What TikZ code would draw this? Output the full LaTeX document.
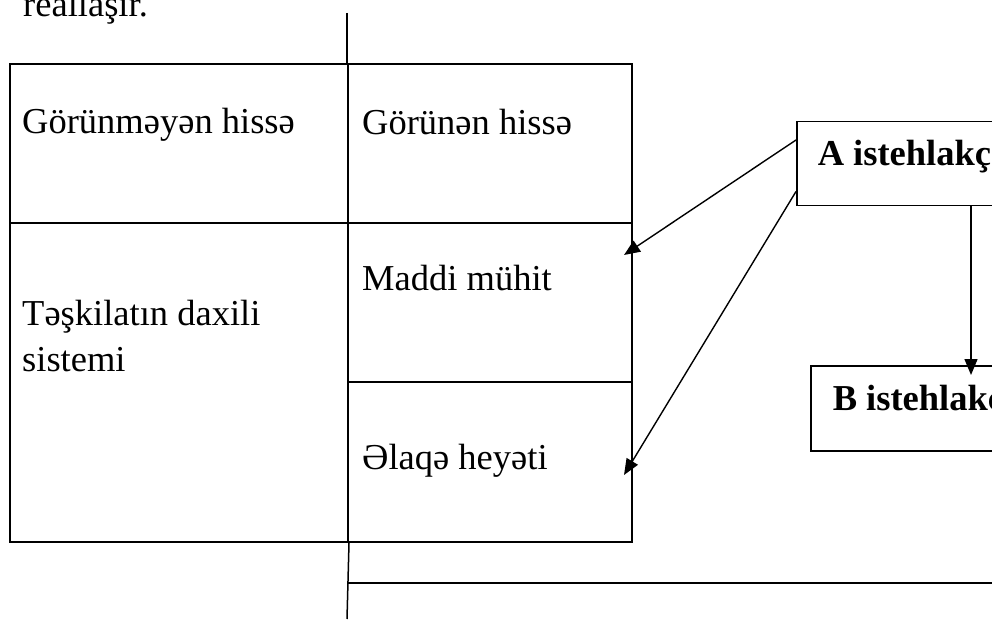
\documentclass[tikz,border=0pt]{standalone}
\usepackage{fontspec}
\setmainfont{Liberation Serif}
\usetikzlibrary{arrows.meta,positioning}

\begin{document}
\begin{tikzpicture}
  [x=1pt, y=1pt, >={Triangle[length=16pt,width=13pt]},
   cell/.style={draw, line width=2pt, inner sep=0, anchor=south west},
   lbl/.style={anchor=base west, inner sep=0, font=\fontsize{36.5}{46}\selectfont},
   cons/.style={draw, line width=1.5pt, inner sep=0, anchor=north west,
     font=\fontsize{36.5}{46}\selectfont\bfseries},
   link/.style={->, line width=1.4pt}]
  \clip (0,0) rectangle (992,619);
  % left column
  \node[cell, minimum width=338pt, minimum height=159pt] (hidden) at (9,395) {};
  \node[cell, minimum width=338pt, minimum height=319pt] (inner) at (9,76) {};
  % middle column
  \node[cell, minimum width=284pt, minimum height=159pt] (visible) at (347,395) {};
  \node[cell, minimum width=284pt, minimum height=159pt] (maddi) at (347,236) {};
  \node[cell, minimum width=284pt, minimum height=160pt] (elaqe) at (347,76) {};
  \draw[line width=1.5pt] (347,606) -- (visible.north west);
  \draw[line width=1.5pt] (inner.south east) -- (347,0);
  \draw[line width=1.5pt] (347,36) -- (992,36);
  % texts
  \node[lbl] (top) at (23,602) {reallaşır.};
  \node[lbl] (thidden) at ([xshift=13pt,yshift=-71pt]hidden.north west) {Görünməyən hissə};
  \node[lbl, align=left] (tinner) at ([xshift=13pt,yshift=-149pt]inner.north west) {Təşkilatın daxili\\sistemi};
  \node[lbl] (tvisible) at ([xshift=15pt,yshift=-72pt]visible.north west) {Görünən hissə};
  \node[lbl] (tmaddi) at ([xshift=15pt,yshift=-69pt]maddi.north west) {Maddi mühit};
  \node[lbl] (telaqe) at ([xshift=15pt,yshift=-88pt]elaqe.north west) {Əlaqə heyəti};
  % consumers
  \node[cons, text height=44pt, text depth=40pt, inner xsep=21pt] (A) at (796,498) {A istehlakç};
  \node[cons, text height=45pt, text depth=40pt, inner xsep=22pt] (B) at (810,254) {B istehlakç};
  \draw[link] ([yshift=-19pt]A.north west) -- ([xshift=-9pt,yshift=-33pt]maddi.north east);
  \draw[link] ([yshift=15pt]A.south west) -- ([xshift=-9pt,yshift=-94pt]elaqe.north east);
  \draw[link] ([xshift=175pt]A.south west) -- ([xshift=161pt,yshift=-10pt]B.north west);
\end{tikzpicture}
\end{document}
